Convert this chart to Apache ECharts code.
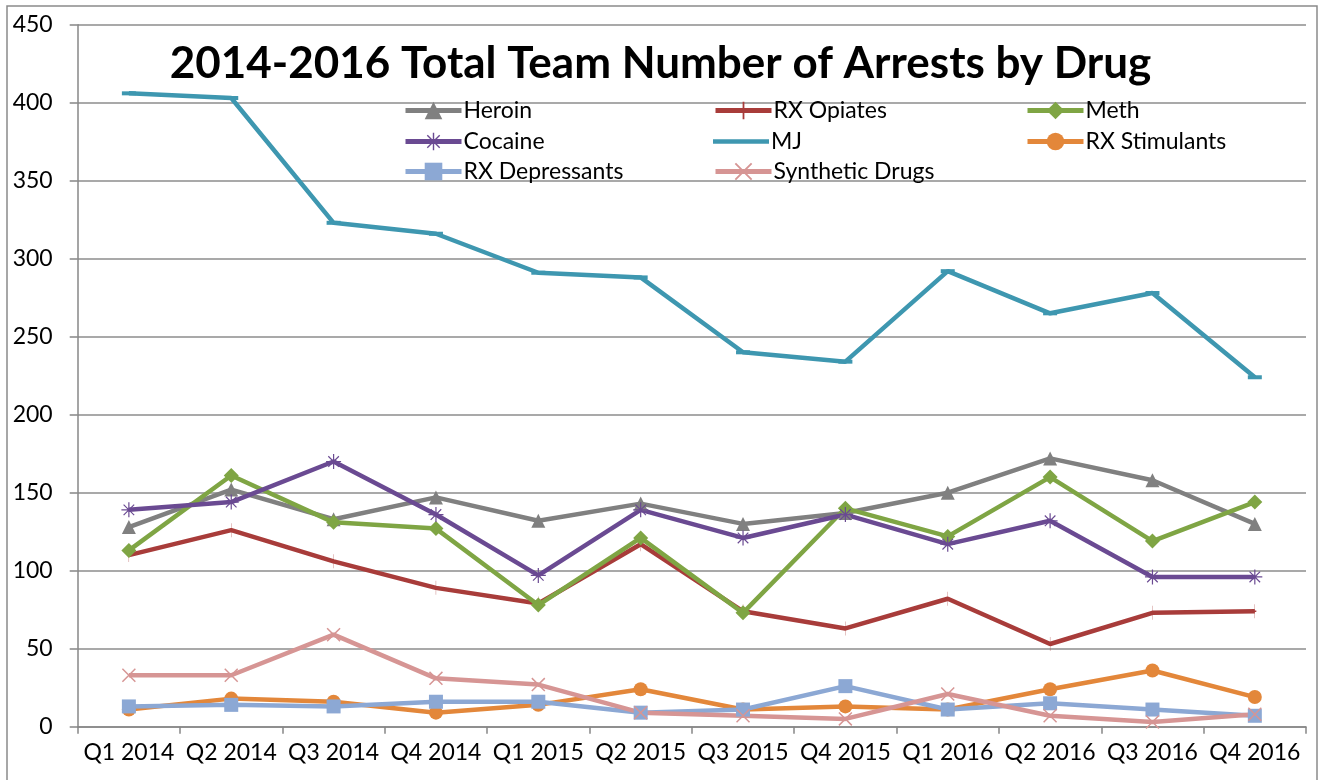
<!DOCTYPE html>
<html>
<head>
<meta charset="utf-8">
<script src="https://cdn.jsdelivr.net/npm/echarts@6/dist/echarts.min.js"></script>
<style>html,body{margin:0;padding:0;background:#fff}#c{width:1321px;height:780px}</style>
</head>
<body>
<div id="c"></div>
<script>
const categories = ['Q1 2014','Q2 2014','Q3 2014','Q4 2014','Q1 2015','Q2 2015','Q3 2015','Q4 2015','Q1 2016','Q2 2016','Q3 2016','Q4 2016'];
const heroin        = [128,152,133,147,132,143,130,137,150,172,158,130];
const rxOpiates     = [110,126,106,89,79,117,74,63,82,53,73,74];
const meth          = [113,161,131,127,78,121,73,140,122,160,119,144];
const cocaine       = [139,144,170,136,97,139,121,136,117,132,96,96];
const mj            = [406,403,323,316,291,288,240,234,292,265,278,224];
const rxStimulants  = [11,18,16,9,14,24,11,13,11,24,36,19];
const rxDepressants = [13,14,13,16,16,9,11,26,11,15,11,7];
const synthetic     = [33,33,59,31,27,9,7,5,21,7,3,8];
const yTicks = [0,50,100,150,200,250,300,350,400,450];

const FONT = 'Lato';
const PLUS = 'path://M-0.1,-1H0.1V-0.1H1V0.1H0.1V1H-0.1V0.1H-1V-0.1H-0.1Z';
const XMARK = 'path://M-1,-0.85L-0.85,-1L1,0.85L0.85,1ZM-1,0.85L0.85,-1L1,-0.85L-0.85,1Z';
const STAR = 'path://M-0.08,-1H0.08V-0.08H1V0.08H0.08V1H-0.08V0.08H-1V-0.08H-0.08ZM-0.76,-0.65L-0.65,-0.76L0.76,0.65L0.65,0.76ZM-0.76,0.65L0.65,-0.76L0.76,-0.65L-0.65,0.76Z';
const DASH = 'path://M-1,-0.2H1V0.2H-1Z';
const MJ_ICON = 'path://M0,0M0,8.7H56V13.3H0ZM56,22';

function s(name, data, color, symbol, size){
  return {name, type:'line', data, symbol, symbolSize:size, showSymbol:true,
    lineStyle:{color, width:4.5}, itemStyle:{color}, animation:false};
}
const series = [
  s('Heroin', heroin, '#808080', 'triangle', 14),
  s('RX Opiates', rxOpiates, '#A83C3A', PLUS, [3,14]),
  s('Meth', meth, '#7FA544', 'diamond', 15),
  s('Cocaine', cocaine, '#6A4A92', STAR, 15),
  s('MJ', mj, '#3E97B0', DASH, [14,4]),
  s('RX Stimulants', rxStimulants, '#E3873A', 'circle', 14),
  s('RX Depressants', rxDepressants, '#8CA8D4', 'rect', 14),
  s('Synthetic Drugs', synthetic, '#D69594', XMARK, 14)
];

const colX = [403, 713, 1025];
const rowY = [110, 141, 171];
const legendLayout = [
  ['Heroin',0,0],['RX Opiates',1,0],['Meth',2,0],
  ['Cocaine',0,1],['MJ',1,1],['RX Stimulants',2,1],
  ['RX Depressants',0,2],['Synthetic Drugs',1,2]
];
const legends = legendLayout.map(([name,c,r]) => {
  const h = 22;
  return {data: name === 'MJ' ? [{name, icon: MJ_ICON}] : [name], left: colX[c], top: rowY[r] - h/2,
    orient:'horizontal', itemWidth:56, itemHeight:h, selectedMode:false, padding:0,
    lineStyle:{width:5},
    textStyle:{fontFamily:FONT, fontSize:23, color:'#000', padding:[0,0,0,-3]}};
});

const chart = echarts.init(document.getElementById('c'), null, {renderer:'canvas'});
chart.setOption({
  animation:false,
  backgroundColor:'#fff',
  title:{text:'2014-2016 Total Team Number of Arrests by Drug', left:'center', top:37,
    textStyle:{fontFamily:FONT, fontWeight:'bold', fontSize:44, color:'#000'}},
  legend: legends,
  grid:{left:77.7, right:15, top:24.7, bottom:53.3, containLabel:false},
  xAxis:{type:'category', data:categories, boundaryGap:true,
    axisLine:{lineStyle:{color:'#878787', width:1.5}},
    axisTick:{show:true, length:7, lineStyle:{color:'#878787', width:1.5}},
    axisLabel:{interval:0, fontFamily:FONT, fontSize:23, color:'#000', margin:14}},
  yAxis:{type:'value', min:0, max:450, interval:50,
    axisLine:{show:true, lineStyle:{color:'#878787', width:1.5}},
    axisTick:{show:true, length:8, lineStyle:{color:'#878787', width:1.5}},
    splitLine:{lineStyle:{color:'#8c8c8c', width:1.5}},
    axisLabel:{fontFamily:FONT, fontSize:23, color:'#000', margin:25,
      formatter:v => yTicks.includes(v) ? String(v) : ''}},
  graphic:[{type:'rect', shape:{x:7, y:6, width:1310, height:800},
    style:{fill:'none', stroke:'#8a8a8a', lineWidth:1.5}, silent:true, z:-1}],
  series
});
</script>
</body>
</html>
